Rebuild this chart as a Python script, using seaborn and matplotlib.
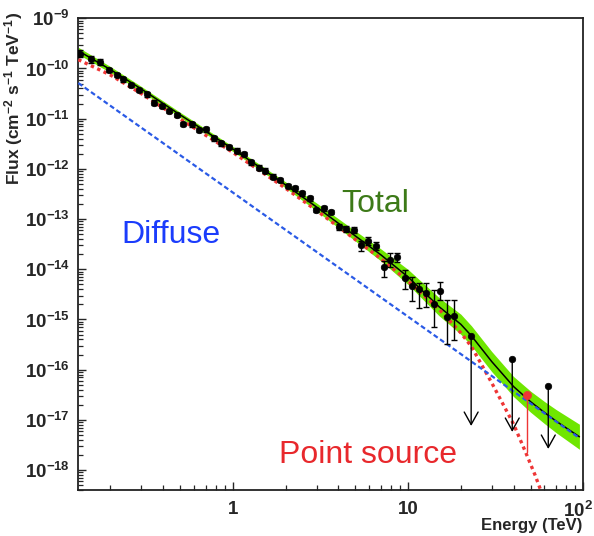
import numpy as np
import pandas as pd
import matplotlib
matplotlib.use("Agg")
import matplotlib.pyplot as plt
import matplotlib.transforms as mtransforms
import seaborn as sns
from matplotlib.ticker import LogLocator, NullFormatter, FuncFormatter, FixedLocator

# ---------------- data ----------------
energy = [0.134, 0.154, 0.174, 0.195, 0.217, 0.237, 0.262, 0.291, 0.323, 0.355,
          0.393, 0.434, 0.479, 0.522, 0.583, 0.642, 0.701, 0.775, 0.857, 0.952,
          1.051, 1.150, 1.267, 1.401, 1.530, 1.693, 1.864, 2.051, 2.270, 2.479,
          2.740, 2.992, 3.294, 3.646, 4.013, 4.441, 4.888, 5.409, 5.932, 6.546,
          7.255, 7.923, 8.652, 9.652, 10.54, 11.50, 12.72, 14.01, 15.30, 16.71, 18.22]
flux = [1.95e-10, 1.52e-10, 1.36e-10, 9.33e-11, 7.43e-11, 6.10e-11, 4.69e-11, 3.73e-11, 3.06e-11, 2.08e-11,
        1.79e-11, 1.42e-11, 1.19e-11, 7.84e-12, 7.73e-12, 5.96e-12, 6.15e-12, 4.07e-12, 3.24e-12, 2.73e-12,
        2.31e-12, 1.98e-12, 1.35e-12, 1.06e-12, 9.20e-13, 7.00e-13, 6.01e-13, 4.56e-13, 4.11e-13, 3.27e-13,
        2.60e-13, 1.52e-13, 1.64e-13, 1.38e-13, 7.06e-14, 6.44e-14, 6.07e-14, 3.05e-14, 3.66e-14, 2.91e-14,
        1.09e-14, 1.53e-14, 1.76e-14, 6.62e-15, 4.65e-15, 4.00e-15, 3.33e-15, 2.04e-15, 3.75e-15, 1.11e-15, 1.19e-15]
err_lo_rel = [0.15, 0.15, 0.12, 0.10, 0.10, 0.10, 0.10, 0.10, 0.10, 0.10,
              0.10, 0.10, 0.10, 0.10, 0.10, 0.10, 0.10, 0.10, 0.10, 0.10,
              0.10, 0.10, 0.10, 0.10, 0.10, 0.10, 0.10, 0.10, 0.10, 0.10,
              0.10, 0.10, 0.10, 0.10, 0.13, 0.13, 0.13, 0.24, 0.17, 0.17,
              0.36, 0.26, 0.19, 0.40, 0.50, 0.57, 0.48, 0.65, 0.35, 0.71, 0.67]
err_hi_rel = [0.17, 0.17, 0.14, 0.11, 0.11, 0.11, 0.11, 0.11, 0.11, 0.11,
              0.11, 0.11, 0.11, 0.11, 0.11, 0.11, 0.11, 0.11, 0.11, 0.11,
              0.11, 0.11, 0.11, 0.11, 0.11, 0.11, 0.11, 0.11, 0.11, 0.11,
              0.11, 0.11, 0.11, 0.11, 0.15, 0.15, 0.15, 0.22, 0.20, 0.20,
              0.36, 0.36, 0.22, 0.46, 0.49, 0.35, 0.62, 0.90, 0.51, 1.20, 1.05]

ul_energy = [22.9, 39.3, 63.1]
ul_flux = [4.69e-16, 1.61e-16, 4.73e-17]
ul_tip = [7.55e-18, 5.74e-18, 2.63e-18]

red_energy = [47.4]
red_flux = [3.13e-17]
red_tip = [2.30e-18]

total_energy = [0.131, 0.2, 0.3, 0.5, 1, 2, 3, 5, 7, 10, 15, 20, 23, 30, 40, 50, 60, 70, 95]
total_flux = [2.25e-10, 9.5e-11, 3.9e-11, 1.19e-11, 2.49e-12, 4.78e-13, 1.74e-13, 4.6e-14, 1.93e-14,
              7.0e-15, 1.8e-15, 8.0e-16, 4.7e-16, 1.45e-16, 4.6e-17, 2.3e-17, 1.4e-17, 9.4e-18, 4.6e-18]
band_hi = [2.64e-10, 1.09e-10, 4.38e-11, 1.335e-11, 2.79e-12, 5.49e-13, 2.09e-13, 5.79e-14, 2.54e-14,
           9.89e-15, 2.73e-15, 1.27e-15, 7.45e-16, 2.30e-16, 7.29e-17, 3.73e-17, 2.32e-17, 1.60e-17, 8.18e-18]
band_lo = [1.91e-10, 8.28e-11, 3.48e-11, 1.06e-11, 2.22e-12, 4.16e-13, 1.45e-13, 3.65e-14, 1.46e-14,
           4.95e-15, 1.19e-15, 5.05e-16, 2.97e-16, 9.15e-17, 2.90e-17, 1.42e-17, 8.43e-18, 5.54e-18, 2.59e-18]

point_energy = [0.131, 0.2, 0.3, 0.5, 1, 2, 3, 5, 7, 10, 15, 20, 23, 30, 40, 47, 53, 60]
point_flux = [1.5e-10, 7.4e-11, 3.15e-11, 9.8e-12, 2.12e-12, 4.1e-13, 1.48e-13, 3.9e-14, 1.62e-14,
              5.8e-15, 1.6e-15, 5.4e-16, 2.87e-16, 5.47e-17, 8.2e-18, 2.2e-18, 8e-19, 2.5e-19]

diffuse_energy = [0.131, 95.3]
diffuse_flux = [5.13e-11, 4.30e-18]

y_ticks = [1e-18, 1e-17, 1e-16, 1e-15, 1e-14, 1e-13, 1e-12, 1e-11, 1e-10, 1e-9]
x_ticks = [1, 10, 100]
x_tick_labels = ["1", "10", r"$\mathbf{10^{2}}$"]

# ---------------- style ----------------
sns.set_style("white")
plt.rcParams["font.family"] = ["Liberation Sans", "DejaVu Sans"]
plt.rcParams["mathtext.fontset"] = "custom"
plt.rcParams["mathtext.rm"] = "Liberation Sans"
plt.rcParams["mathtext.bf"] = "Liberation Sans:bold"
plt.rcParams["mathtext.it"] = "Liberation Sans:italic"

fig = plt.figure(figsize=(5.94, 5.36), dpi=100)
ax = fig.add_axes([0.1318, 0.0858, 0.8502, 0.8801])
ax.set_xscale("log")
ax.set_yscale("log")

GREEN = "#6fe600"
RED = "#ee3535"
BLUE = "#2a5ae6"

ax.fill_between(total_energy, band_lo, band_hi, color=GREEN, lw=0, zorder=1)
sns.lineplot(x=total_energy, y=total_flux, ax=ax, color="black", lw=1.1, zorder=3)
sns.lineplot(x=point_energy, y=point_flux, ax=ax, color=RED, lw=2.4, zorder=4)
ax.lines[-1].set_dashes([1.0, 1.1])
sns.lineplot(x=diffuse_energy, y=diffuse_flux, ax=ax, color=BLUE, lw=1.6, zorder=4)
ax.lines[-1].set_dashes([2.2, 1.3])

f = np.array(flux)
ax.errorbar(energy, flux, yerr=[f * np.array(err_lo_rel), f * np.array(err_hi_rel)],
            fmt="none", ecolor="black", elinewidth=1.0, capsize=2.4, capthick=1.0, zorder=5)
sns.scatterplot(x=energy, y=flux, ax=ax, color="black", s=22, edgecolor="black", linewidth=0.5, zorder=6)

for e, fl, tip in zip(ul_energy, ul_flux, ul_tip):
    ax.annotate("", xy=(e, tip), xytext=(e, fl),
                arrowprops=dict(arrowstyle="->,head_length=0.9,head_width=0.5", color="black",
                                lw=1.0, shrinkA=0, shrinkB=0), zorder=5)
sns.scatterplot(x=ul_energy, y=ul_flux, ax=ax, color="black", s=22, edgecolor="black", linewidth=0.5, zorder=6)

for e, fl, tip in zip(red_energy, red_flux, red_tip):
    ax.plot([e, e], [fl, tip], color=RED, lw=1.0, zorder=5)
sns.scatterplot(x=red_energy, y=red_flux, ax=ax, color=RED, s=34, edgecolor=RED, linewidth=0.5, zorder=6)

ax.set_xlim(0.131, 100)
ax.set_ylim(4.0e-19, 1e-9)

# ticks
ax.yaxis.set_major_locator(FixedLocator(y_ticks))
ax.yaxis.set_minor_locator(LogLocator(base=10, subs=np.arange(2, 10), numticks=100))
ax.yaxis.set_major_formatter(FuncFormatter(lambda v, p: r"$\mathbf{10^{%d}}$" % int(round(np.log10(v)))))
ax.yaxis.set_minor_formatter(NullFormatter())
ax.xaxis.set_major_locator(FixedLocator(x_ticks))
ax.set_xticklabels(x_tick_labels)
ax.xaxis.set_minor_locator(LogLocator(base=10, subs=np.arange(2, 10), numticks=100))
ax.xaxis.set_minor_formatter(NullFormatter())

ax.tick_params(axis="y", which="major", direction="in", length=6, width=1.0,
               labelsize=13.5, left=True, right=False, pad=6)
ax.tick_params(axis="x", which="major", direction="in", length=6, width=1.0,
               labelsize=13.5, bottom=True, top=False, pad=8)
ax.tick_params(axis="both", which="minor", direction="in", length=3.5, width=0.9,
               top=False, right=False, left=True, bottom=True)
for lab in ax.get_xticklabels() + ax.get_yticklabels():
    lab.set_fontweight("bold")
# keep the last x label inside the canvas
last = ax.get_xticklabels()[-1]
last.set_transform(last.get_transform() + mtransforms.ScaledTranslation(-5 / 100, 0, fig.dpi_scale_trans))

for s in ax.spines.values():
    s.set_color("#222222")
    s.set_linewidth(1.3)
    s.set_visible(True)

# texts
fig.text(0.2049, 0.5472, "Diffuse", color="#1b3cfc", fontsize=23, va="baseline", ha="left")
fig.text(0.5752, 0.605, "Total", color="#3d7a18", fontsize=23, va="baseline", ha="left")
fig.text(0.4697, 0.1362, "Point source", color="#e8282c", fontsize=23, va="baseline", ha="left")

fig.text(0.981, 0.019, "Energy (TeV)", fontsize=12, fontweight="bold", ha="right", va="center")
fig.text(0.023, 0.977, r"Flux (cm$^{\mathbf{-2}}$ s$^{\mathbf{-1}}$ TeV$^{\mathbf{-1}}$)",
         fontsize=12.5, fontweight="bold", rotation=90, ha="center", va="top")

fig.savefig("out.png", dpi=100)
